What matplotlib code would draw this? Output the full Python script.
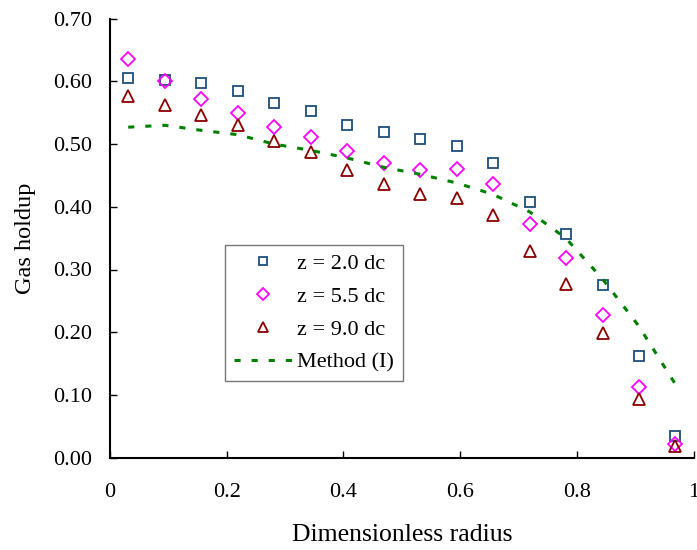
import matplotlib
matplotlib.use('Agg')
import matplotlib.pyplot as plt

# Dimensionless radius of the measuring points
radius = [0.031, 0.094, 0.156, 0.219, 0.281, 0.344, 0.406, 0.469,
          0.531, 0.594, 0.656, 0.719, 0.781, 0.844, 0.906, 0.969]

holdup_z20 = [0.605, 0.602, 0.598, 0.585, 0.565, 0.553, 0.530, 0.519,
              0.508, 0.497, 0.470, 0.407, 0.357, 0.275, 0.162, 0.035]
holdup_z55 = [0.635, 0.600, 0.572, 0.550, 0.527, 0.512, 0.489, 0.470,
              0.458, 0.461, 0.436, 0.373, 0.319, 0.228, 0.113, 0.022]
holdup_z90 = [0.577, 0.562, 0.547, 0.530, 0.505, 0.487, 0.458, 0.437,
              0.421, 0.414, 0.387, 0.330, 0.277, 0.198, 0.094, 0.018]
method_1 = [0.527, 0.530, 0.522, 0.515, 0.500, 0.490, 0.478, 0.463,
            0.452, 0.438, 0.420, 0.392, 0.350, 0.285, 0.210, 0.117]

x_ticks = [0, 0.2, 0.4, 0.6, 0.8, 1]
x_tick_labels = ['0', '0.2', '0.4', '0.6', '0.8', '1']
y_ticks = [0.0, 0.1, 0.2, 0.3, 0.4, 0.5, 0.6, 0.7]
y_tick_labels = ['0.00', '0.10', '0.20', '0.30', '0.40', '0.50', '0.60', '0.70']

plt.rcParams['font.family'] = ['Liberation Serif', 'DejaVu Serif']

fig = plt.figure(figsize=(6.97, 5.5), dpi=100)
ax = fig.add_axes([0.158, 0.168, 0.837, 0.798])

ax.plot(radius, holdup_z20, linestyle='none', marker='s', markersize=7.5,
        markerfacecolor='none', markeredgecolor='#1f4e79', markeredgewidth=1.3,
        label='z = 2.0 dc')
ax.plot(radius, holdup_z55, linestyle='none', marker='D', markersize=7,
        markerfacecolor='none', markeredgecolor='#ff00ff', markeredgewidth=1.3,
        label='z = 5.5 dc')
ax.plot(radius, holdup_z90, linestyle='none', marker='^', markersize=9,
        markerfacecolor='none', markeredgecolor='#8b0000', markeredgewidth=1.3,
        label='z = 9.0 dc')
ax.plot(radius, method_1, color='#008000', linewidth=2.2,
        linestyle=(0, (2.0, 3.6)), label='Method (I)')

ax.set_xlim(0, 1)
ax.set_ylim(0, 0.7)
ax.set_xticks(x_ticks)
ax.set_xticklabels(x_tick_labels)
ax.set_yticks(y_ticks)
ax.set_yticklabels(y_tick_labels)
ax.tick_params(direction='in', length=5, width=1, labelsize=16)
ax.tick_params(axis='y', pad=13)
ax.tick_params(axis='x', pad=18)

ax.spines['top'].set_visible(False)
ax.spines['right'].set_visible(False)
ax.spines['left'].set_linewidth(1.5)
ax.spines['bottom'].set_linewidth(1.5)

ax.set_xlabel('Dimensionless radius', fontsize=18.5, labelpad=16)
ax.set_ylabel('Gas holdup', fontsize=17.5, labelpad=12)

leg = ax.legend(loc='upper left', bbox_to_anchor=(0.197, 0.485), fontsize=16,
                markerscale=0.85, frameon=True, fancybox=False,
                edgecolor='#555555', borderpad=0.4, labelspacing=0.55,
                borderaxespad=0, handlelength=2.6, handletextpad=0.25)
leg.get_frame().set_linewidth(1.0)

plt.savefig('out.png', dpi=100)
plt.close()
